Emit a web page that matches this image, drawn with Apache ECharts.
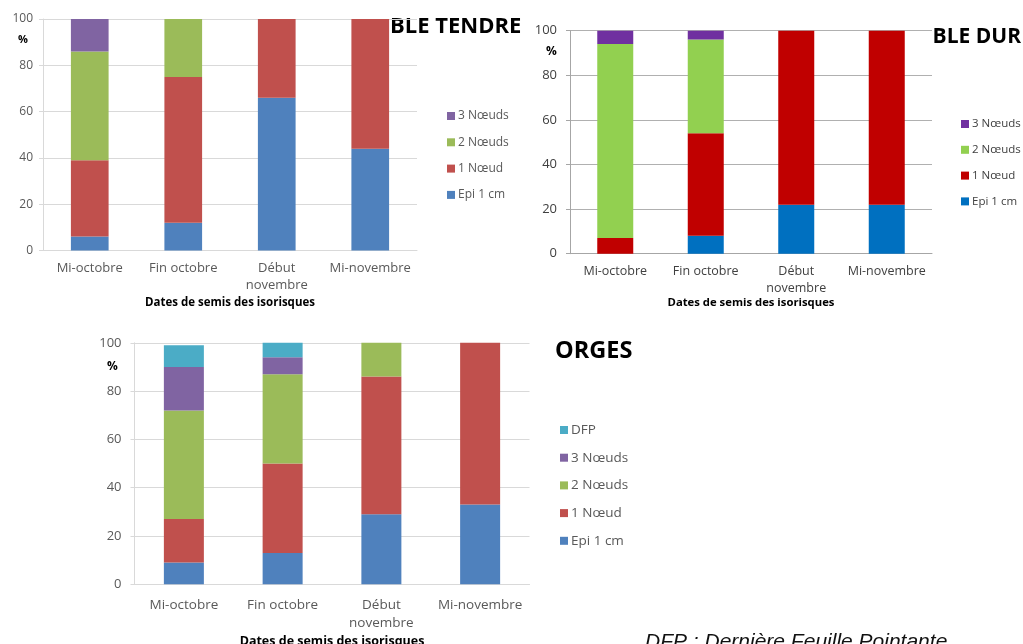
<!DOCTYPE html>
<html>
<head>
<meta charset="utf-8">
<script src="https://cdn.jsdelivr.net/npm/echarts@6/dist/echarts.min.js"></script>
<style>
html, body { margin: 0; padding: 0; background: #fff; }
#chart { width: 1023px; height: 644px; }
</style>
</head>
<body>
<div id="chart"></div>
<script>
// dates de semis, communes aux trois graphiques
const dates = ['Mi-octobre', 'Fin octobre', 'Début\nnovembre', 'Mi-novembre'];
const yMax = 100;
const yStep = 20;

// BLE TENDRE (% par stade)
const btEpi = [6, 12, 66, 44];
const bt1Noeud = [33, 63, 34, 56];
const bt2Noeuds = [47, 25, 0, 0];
const bt3Noeuds = [14, 0, 0, 0];

// BLE DUR
const bdEpi = [0, 8, 22, 22];
const bd1Noeud = [7, 46, 78, 78];
const bd2Noeuds = [87, 42, 0, 0];
const bd3Noeuds = [6, 4, 0, 0];

// ORGES
const orEpi = [9, 13, 29, 33];
const or1Noeud = [18, 37, 57, 67];
const or2Noeuds = [45, 37, 14, 0];
const or3Noeuds = [18, 7, 0, 0];
const orDfp = [9, 6, 0, 0];

const stades = ['Epi 1 cm', '1 Nœud', '2 Nœuds', '3 Nœuds', 'DFP'];

const font = 'Open Sans';
const officeColors = ['#4F81BD', '#C0504D', '#9BBB59', '#8064A2', '#4BACC6'];
const durColors = ['#0070C0', '#C00000', '#92D050', '#7030A0'];

function stackSeries(key, axis, values, colors, width) {
  return values.map((v, i) => ({
    name: key + ':' + stades[i],
    type: 'bar',
    stack: key,
    xAxisIndex: axis,
    yAxisIndex: axis,
    barWidth: width,
    data: v,
    itemStyle: { color: colors[i] },
    emphasis: { disabled: true }
  }));
}

function legendFor(key, count, o) {
  return {
    orient: 'vertical',
    left: o.left,
    top: o.top,
    padding: 0,
    itemWidth: 8,
    itemHeight: 8,
    itemGap: o.gap,
    icon: 'rect',
    selectedMode: false,
    data: stades.slice(0, count).reverse().map(s => key + ':' + s),
    formatter: n => n.split(':')[1],
    textStyle: { fontFamily: font, fontSize: o.fs, color: o.color, padding: [0, 0, 0, -2] }
  };
}

function xAx(idx, o) {
  return {
    type: 'category',
    gridIndex: idx,
    data: dates,
    axisLine: { lineStyle: { color: o.line } },
    axisTick: { length: 5, lineStyle: { color: o.line } },
    axisLabel: { interval: 0, color: o.text, fontFamily: font, fontSize: o.fs, lineHeight: o.lh, margin: o.margin },
    name: 'Dates de semis des isorisques',
    nameLocation: 'middle',
    nameGap: o.nameGap,
    nameTextStyle: { fontFamily: font, fontWeight: 'bold', fontSize: o.nfs, color: '#000' }
  };
}

function yAx(idx, o) {
  return {
    type: 'value',
    gridIndex: idx,
    min: 0,
    max: yMax,
    interval: yStep,
    axisLine: { show: true, lineStyle: { color: o.line } },
    axisTick: { show: true, length: 4, lineStyle: { color: o.line } },
    splitLine: { lineStyle: { color: o.grid } },
    axisLabel: { color: o.text, fontFamily: font, fontSize: o.fs, margin: o.ymargin }
  };
}

function label(text, x, y, size, extra) {
  return {
    type: 'text',
    x: x,
    y: y,
    style: Object.assign({
      text: text,
      fontFamily: font,
      fontSize: size,
      fontWeight: 'bold',
      fill: '#000',
      verticalAlign: 'middle'
    }, extra || {})
  };
}

const light = { line: '#D9D9D9', grid: '#D9D9D9', text: '#595959' };
const dark = { line: '#A6A6A6', grid: '#B0B0B0', text: '#404040' };

const chart = echarts.init(document.getElementById('chart'));
chart.setOption({
  animation: false,
  grid: [
    { left: 43, top: 19, width: 374, height: 231.5, outerBoundsMode: 'none' },
    { left: 570, top: 30.7, width: 362, height: 223, outerBoundsMode: 'none' },
    { left: 134.5, top: 342.8, width: 395, height: 241.5, outerBoundsMode: 'none' }
  ],
  xAxis: [
    xAx(0, Object.assign({ fs: 13, lh: 17, margin: 9, nameGap: 46, nfs: 11.5 }, light)),
    xAx(1, Object.assign({ fs: 12.5, lh: 17, margin: 9, nameGap: 44, nfs: 11.3 }, dark)),
    xAx(2, Object.assign({ fs: 13.5, lh: 18, margin: 12, nameGap: 51, nfs: 12.5 }, light))
  ],
  yAxis: [
    yAx(0, Object.assign({ fs: 12, ymargin: 10 }, light)),
    yAx(1, Object.assign({ fs: 13, ymargin: 13 }, dark)),
    yAx(2, Object.assign({ fs: 13, ymargin: 13 }, light))
  ],
  legend: [
    legendFor('bt', 4, { left: 447, top: 110, gap: 14.3, fs: 12, color: '#595959' }),
    legendFor('bd', 4, { left: 961, top: 118, gap: 13.8, fs: 11.5, color: '#404040' }),
    legendFor('or', 5, { left: 560, top: 423, gap: 13.7, fs: 13.5, color: '#595959' })
  ],
  graphic: [
    label('BLE TENDRE', 390, 27, 22),
    label('BLE DUR', 1021, 37.5, 21, { align: 'right' }),
    label('ORGES', 555, 351.5, 23.5),
    label('%', 18, 40, 11),
    label('%', 546, 51.7, 12),
    label('%', 107, 366.7, 12),
    label('DFP : Dernière Feuille Pointante', 645, 642, 21,
      { fontFamily: 'Liberation Sans', fontWeight: 'normal', fontStyle: 'italic', fill: '#111' })
  ],
  series: [].concat(
    stackSeries('bt', 0, [btEpi, bt1Noeud, bt2Noeuds, bt3Noeuds], officeColors, 37.7),
    stackSeries('bd', 1, [bdEpi, bd1Noeud, bd2Noeuds, bd3Noeuds], durColors, 36),
    stackSeries('or', 2, [orEpi, or1Noeud, or2Noeuds, or3Noeuds, orDfp], officeColors, 40)
  )
});
</script>
</body>
</html>
